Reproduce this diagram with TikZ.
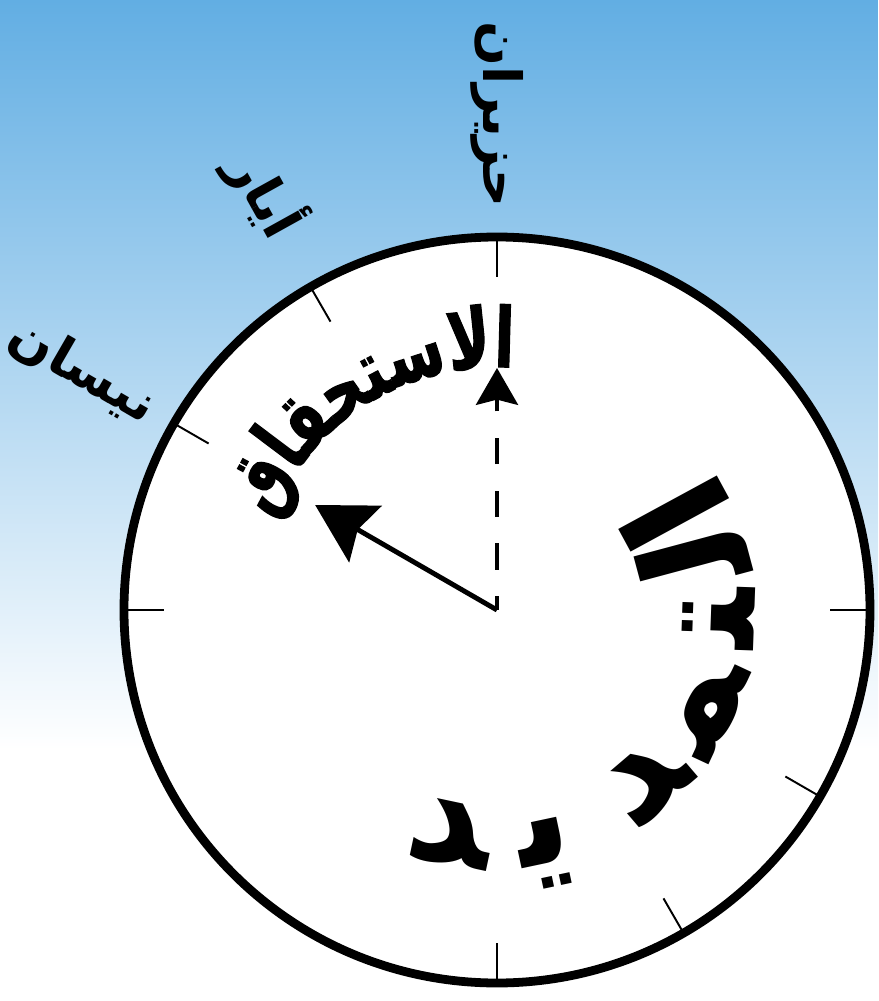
\documentclass[tikz,border=0pt]{standalone}
\usepackage{fontspec}
\newfontfamily\arabfont[Script=Arabic]{DejaVu Sans}
\newfontfamily\narrowarab[Script=Arabic, FakeStretch=0.7, FakeBold=1.5]{DejaVu Sans}
\TeXXeTstate=1
\usetikzlibrary{arrows.meta}
\definecolor{skytop}{HTML}{62AEE3}
\newcommand\duefont{\narrowarab\bfseries\fontsize{47}{52}\selectfont}
\newcommand\dueradius{243}

\begin{document}
\begin{tikzpicture}[x=0.2mm, y=0.2mm,
  dialrim/.style={line width=5pt, fill=white},
  tickmark/.style={line width=1.1pt},
  month/.style={font=\arabfont\bfseries\fontsize{30}{36}\selectfont, inner sep=0pt},
  bigglyph/.style={font=\arabfont\bfseries\fontsize{84}{90}\selectfont, inner sep=0pt, anchor=base},
  dueglyph/.style={font=\duefont, inner sep=0pt, anchor=base},
  duearrow/.style={line width=2pt, dash pattern=on 15pt off 15pt, dash phase=7pt,
    -{Stealth[length=21pt, width=24pt, inset=3pt]}},
  nowarrow/.style={line width=2.8pt, -{Stealth[length=33pt, width=37pt, inset=5pt]}},
]
  \useasboundingbox (-497,-391) rectangle (381,610);
  \fill[white] (-497,-391) rectangle (381,610);
  \shade[top color=skytop, bottom color=white] (-497,-140) rectangle (381,610);

  % dial
  \coordinate (hub) at (0,0);
  \draw[dialrim] (hub) circle (373);
  \foreach \a in {90,120,150,180,0,-30,-60,-90}
    \draw[tickmark] (\a:373) -- (\a:333);

  % months outside the rim
  \node[month, rotate=-90, anchor=east] (hazi) at (90:402) {\beginR حزيران\endR};
  \node[month, rotate=-61, anchor=east] (ayya) at (119:431) {\beginR أيار\endR};
  \node[month, rotate=-30, anchor=east] (nisa) at (150:398) {\beginR نيسان\endR};

  % hands
  \coordinate (duetip) at (90:242);
  \coordinate (nowtip) at (150:210);
  \draw[duearrow] (hub) -- (duetip);
  \draw[nowarrow] (hub) -- (nowtip);

  % curved word, letters facing out
  \xdef\curang{86}
  \foreach \gl [count=\i] in {65165,65275,65203,65176,65188,65240,65166,65237} {
    \node[dueglyph] (probe) at (0,0) {\phantom{\char\gl\relax}};
    \pgfpointdiff{\pgfpointanchor{probe}{west}}{\pgfpointanchor{probe}{east}}
    \pgfgetlastxy{\glw}{\glh}
    \pgfmathsetmacro\halfang{\glw/(2*\dueradius*0.569055)*57.29578}
    \pgfmathsetmacro\midang{\curang+\halfang}
    \node[dueglyph, rotate=\midang-90] (due-\i) at (\midang:\dueradius) {\char\gl\relax};
    \pgfmathsetmacro\nextang{\curang+2*\halfang}
    \xdef\curang{\nextang}
  }

  % big word, letters facing in
  \foreach \gl/\a [count=\i] in {65165/28.5, 65247/15, 65176/-2, 65252/-25, 65194/-49.5, 65267/-78, 65194/-102}
    \node[bigglyph, rotate=\a+90] (ext-\i) at (\a:258) {\char\gl\relax};
\end{tikzpicture}
\end{document}
